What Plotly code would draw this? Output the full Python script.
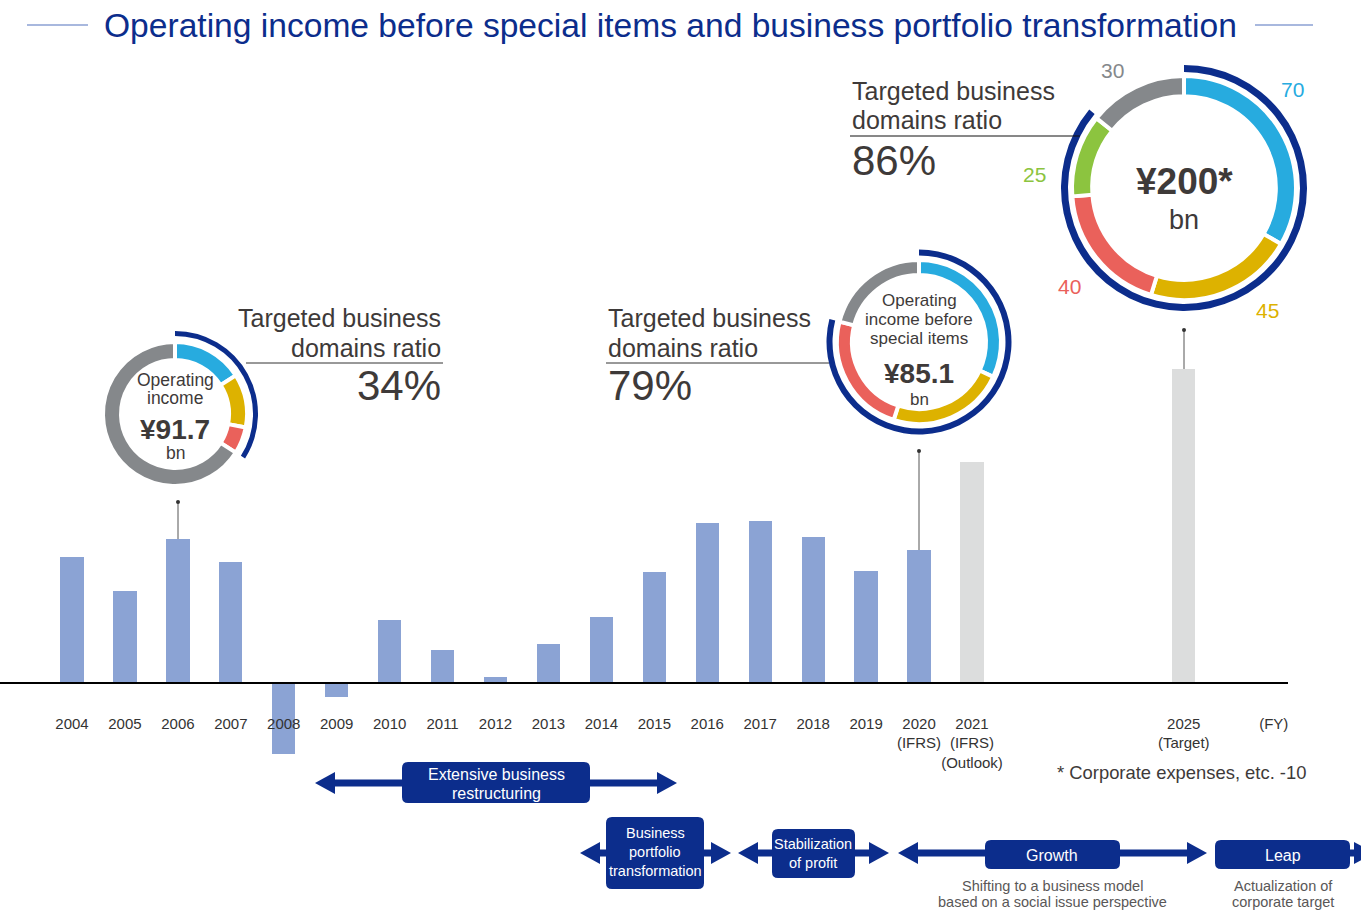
import plotly.graph_objects as go

W, H = 1361, 911

# operating income (bn yen)
years_actual = [2004, 2005, 2006, 2007, 2008, 2009, 2010, 2011, 2012,
                2013, 2014, 2015, 2016, 2017, 2018, 2019, 2020]
income_actual = [80.3, 58.6, 91.7, 77.1, -45.2, -8.9, 40.1, 21.0, 3.8,
                 24.8, 42.0, 70.7, 101.9, 103.2, 93.0, 71.3, 85.1]
years_plan = [2021, 2025]
income_plan = [140.8, 200.0]

tick_vals = [2004, 2005, 2006, 2007, 2008, 2009, 2010, 2011, 2012, 2013,
             2014, 2015, 2016, 2017, 2018, 2019, 2020, 2021, 2025, 2026.7]
tick_text = ["2004", "2005", "2006", "2007", "2008", "2009", "2010", "2011",
             "2012", "2013", "2014", "2015", "2016", "2017", "2018", "2019",
             "2020<br>(IFRS)", "2021<br>(IFRS)<br>(Outlook)", "2025<br>(Target)", "(FY)"]

# donut breakdowns (share of each business domain)
ring_2006 = [16, 12, 6, 66]
ring_2020 = [32, 23, 24, 21]
ring_2025 = [70, 45, 40, 25, 30]
targeted_ratio = [34, 79, 86]

BLUE = "#27ABDF"
YELLOW = "#DDB200"
RED = "#EA615B"
GREEN = "#8CC43F"
GRAY = "#85888B"
NAVY = "#0C2D8C"
BAR = "#8BA3D4"
BAR_PLAN = "#DCDDDD"
TEXT = "#3E3A39"
FONT = "Arial, Liberation Sans, sans-serif"


def X(px):
    return px / W


def Y(py):
    return 1 - py / H


def add_donut(fig, cx, cy, r, hole, values, colors, gap=0):
    fig.add_trace(
        go.Pie(
            values=values,
            marker=dict(colors=colors, line=dict(color="white", width=gap)),
            hole=hole,
            domain=dict(x=[X(cx - r), X(cx + r)], y=[Y(cy + r), Y(cy - r)]),
            sort=False,
            direction="clockwise",
            rotation=0,
            textinfo="none",
            hoverinfo="skip",
            showlegend=False,
        )
    )


def add_text(fig, x, y, s, size, color=TEXT, anchor="center", bold=False):
    if bold:
        s = f"<b>{s}</b>"
    fig.add_annotation(
        x=X(x), y=Y(y), xref="paper", yref="paper", text=s, showarrow=False,
        xanchor=anchor, yanchor="middle",
        font=dict(family=FONT, size=size, color=color),
    )


def add_line(fig, x0, y0, x1, y1, color, width):
    fig.add_shape(type="line", xref="paper", yref="paper",
                  x0=X(x0), y0=Y(y0), x1=X(x1), y1=Y(y1),
                  line=dict(color=color, width=width))


def add_leader(fig, x, y0, y1):
    add_line(fig, x, y0, x, y1, "#555555", 1)
    fig.add_shape(type="circle", xref="paper", yref="paper",
                  x0=X(x - 2), x1=X(x + 2), y0=Y(y0 + 2), y1=Y(y0 - 2),
                  fillcolor="#333333", line=dict(width=0))


def add_box(fig, x0, y0, x1, y1, r=6):
    p = (f"M {X(x0 + r)},{Y(y0)} L {X(x1 - r)},{Y(y0)} "
         f"Q {X(x1)},{Y(y0)} {X(x1)},{Y(y0 + r)} L {X(x1)},{Y(y1 - r)} "
         f"Q {X(x1)},{Y(y1)} {X(x1 - r)},{Y(y1)} L {X(x0 + r)},{Y(y1)} "
         f"Q {X(x0)},{Y(y1)} {X(x0)},{Y(y1 - r)} L {X(x0)},{Y(y0 + r)} "
         f"Q {X(x0)},{Y(y0)} {X(x0 + r)},{Y(y0)} Z")
    fig.add_shape(type="path", xref="paper", yref="paper", path=p,
                  fillcolor=NAVY, line=dict(width=0))


def add_arrow(fig, xl, xr, y, head=20, half=11, left=True, right=True):
    add_line(fig, xl + (head - 2 if left else 0), y, xr - (head - 2 if right else 0), y, NAVY, 7)
    if left:
        fig.add_shape(type="path", xref="paper", yref="paper",
                      path=f"M {X(xl)},{Y(y)} L {X(xl + head)},{Y(y - half)} L {X(xl + head)},{Y(y + half)} Z",
                      fillcolor=NAVY, line=dict(width=0))
    if right:
        fig.add_shape(type="path", xref="paper", yref="paper",
                      path=f"M {X(xr)},{Y(y)} L {X(xr - head)},{Y(y - half)} L {X(xr - head)},{Y(y + half)} Z",
                      fillcolor=NAVY, line=dict(width=0))


fig = go.Figure()

fig.add_trace(go.Bar(x=years_actual, y=income_actual, width=0.44,
                     marker=dict(color=BAR, line=dict(width=0)),
                     hoverinfo="x+y", showlegend=False))
fig.add_trace(go.Bar(x=years_plan, y=income_plan, width=0.44,
                     marker=dict(color=BAR_PLAN, line=dict(width=0)),
                     hoverinfo="x+y", showlegend=False))

# donuts: inner ring of segments and outer navy arc for the targeted ratio
add_donut(fig, 175, 414, 72, 0.75, ring_2006, [BLUE, YELLOW, RED, GRAY], gap=4)
add_donut(fig, 175, 414, 83, 0.94, [targeted_ratio[0], 100 - targeted_ratio[0]],
          [NAVY, "rgba(0,0,0,0)"])
add_donut(fig, 919, 342, 82, 0.817, ring_2020, [BLUE, YELLOW, RED, GRAY], gap=4)
add_donut(fig, 919, 342, 92.5, 0.935, [targeted_ratio[1], 100 - targeted_ratio[1]],
          [NAVY, "rgba(0,0,0,0)"])
add_donut(fig, 1184, 188, 112, 0.82, ring_2025, [BLUE, YELLOW, RED, GREEN, GRAY], gap=4)
add_donut(fig, 1184, 188, 123, 0.943, [targeted_ratio[2], 100 - targeted_ratio[2]],
          [NAVY, "rgba(0,0,0,0)"])

# title
add_text(fig, 670.5, 25, "Operating income before special items and business portfolio transformation",
         33.6, NAVY)
add_line(fig, 27, 25, 88, 25, "#8BA0D3", 1.5)
add_line(fig, 1255, 25, 1313, 25, "#8BA0D3", 1.5)

# donut centre labels
for s, y in [("Operating", 380), ("income", 398), ("bn", 453)]:
    add_text(fig, 175, y, s, 17.5)
add_text(fig, 175, 430, "¥91.7", 28, bold=True)
for s, y in [("Operating", 300), ("income before", 319), ("special items", 338), ("bn", 399)]:
    add_text(fig, 919, y, s, 17)
add_text(fig, 919, 373, "¥85.1", 28, bold=True)
add_text(fig, 1184, 182, "¥200*", 37, bold=True)
add_text(fig, 1184, 220, "bn", 27)

# segment values around the 2025 donut
for v, c, x, y in zip(ring_2025, [BLUE, YELLOW, RED, GREEN, GRAY],
                      [1292, 1267, 1069, 1034, 1112], [90, 310, 286, 175, 70]):
    add_text(fig, x, y, str(v), 21, c)

# targeted business domains ratio blocks
add_text(fig, 443, 318, "Targeted business", 25, anchor="right")
add_text(fig, 443, 348, "domains ratio", 25, anchor="right")
add_text(fig, 443, 386, f"{targeted_ratio[0]}%", 42, anchor="right")
add_line(fig, 246, 363, 443, 363, "#333333", 1)

add_text(fig, 606, 318, "Targeted business", 25, anchor="left")
add_text(fig, 606, 348, "domains ratio", 25, anchor="left")
add_text(fig, 606, 386, f"{targeted_ratio[1]}%", 42, anchor="left")
add_line(fig, 606, 363, 829, 363, "#333333", 1)

add_text(fig, 850, 91, "Targeted business", 25, anchor="left")
add_text(fig, 850, 120, "domains ratio", 25, anchor="left")
add_text(fig, 850, 160, f"{targeted_ratio[2]}%", 42, anchor="left")
add_line(fig, 850, 136, 1080, 136, "#111111", 1)

# leader lines from donuts to bars
add_leader(fig, 178, 502, 539)
add_leader(fig, 919, 451, 550)
add_leader(fig, 1184, 330, 369)

add_text(fig, 1055, 772, "* Corporate expenses, etc. -10", 18.4, anchor="left")

# phase arrows
add_arrow(fig, 315, 677, 783)
add_box(fig, 402, 762, 590, 803)
add_text(fig, 496, 774, "Extensive business", 16, "white")
add_text(fig, 496, 793, "restructuring", 16, "white")

add_arrow(fig, 580, 731, 853)
add_box(fig, 606, 817, 704, 889)
for s, y in [("Business", 833), ("portfolio", 852), ("transformation", 871)]:
    add_text(fig, 655, y, s, 14.5, "white")

add_arrow(fig, 738, 889, 853)
add_box(fig, 772, 829, 855, 878)
add_text(fig, 813, 844, "Stabilization", 14.5, "white")
add_text(fig, 813, 863, "of profit", 14.5, "white")

add_arrow(fig, 898, 1207, 853)
add_box(fig, 985, 840, 1120, 869)
add_text(fig, 1052, 855, "Growth", 16, "white")
add_text(fig, 1052, 886, "Shifting to a business model", 14.5, "#595757")
add_text(fig, 1052, 902, "based on a social issue perspective", 14.5, "#595757")

add_arrow(fig, 1340, 1374, 853, left=False)
add_box(fig, 1215, 840, 1350, 869)
add_text(fig, 1283, 855, "Leap", 16, "white")
add_text(fig, 1283, 886, "Actualization of", 14.5, "#595757")
add_text(fig, 1283, 902, "corporate target", 14.5, "#595757")

x_left = 2004 - 72 / 52.94
fig.update_layout(
    width=W,
    height=H,
    margin=dict(l=0, r=0, t=0, b=0),
    paper_bgcolor="white",
    plot_bgcolor="white",
    bargap=0,
    font=dict(family=FONT, color=TEXT),
    xaxis=dict(
        domain=[0, 1288 / W],
        range=[x_left, x_left + 1288 / 52.94],
        anchor="free",
        position=Y(683),
        showline=True,
        linecolor="black",
        linewidth=1.5,
        showgrid=False,
        zeroline=False,
        ticks="",
        tickangle=0,
        tickvals=tick_vals,
        ticktext=tick_text,
        ticklabelstandoff=27,
        tickfont=dict(family=FONT, size=15, color="#333333"),
        layer="above traces",
    ),
    yaxis=dict(
        domain=[0, 1],
        range=[-(H - 683) / 1.5686, 683 / 1.5686],
        visible=False,
    ),
)

fig.write_html("out.html", config={"displayModeBar": False},
               post_script="document.body.style.margin='0';")
